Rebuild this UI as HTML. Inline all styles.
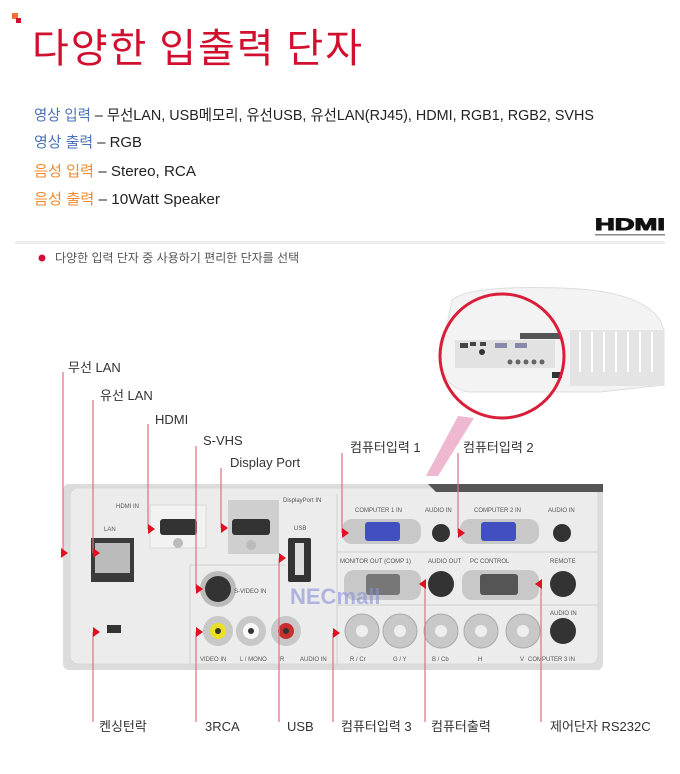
<!DOCTYPE html>
<html><head><meta charset="utf-8"><style>
body{margin:0;background:#fff;}
svg{display:block;font-family:"Liberation Sans","Noto Sans CJK KR",sans-serif;}
</style></head><body>
<svg width="680" height="774" viewBox="0 0 680 774" xmlns="http://www.w3.org/2000/svg">
<!-- title -->
<rect x="12" y="13" width="6" height="6" fill="#f07030"/>
<rect x="16" y="18" width="5" height="5" fill="#d01030"/>
<text x="32" y="62" font-size="40" fill="#d0102e" font-family="Noto Sans CJK KR, sans-serif" textLength="330">다양한 입출력 단자</text>
<g font-size="15" fill="#222">
<text x="34" y="120" textLength="560" lengthAdjust="spacingAndGlyphs"><tspan fill="#4a70b8">영상 입력</tspan> – 무선LAN, USB메모리, 유선USB, 유선LAN(RJ45), HDMI, RGB1, RGB2, SVHS</text>
<text x="34" y="147" textLength="108" lengthAdjust="spacingAndGlyphs"><tspan fill="#4a70b8">영상 출력</tspan> – RGB</text>
<text x="34" y="176" textLength="162" lengthAdjust="spacingAndGlyphs"><tspan fill="#f08a30">음성 입력</tspan> – Stereo, RCA</text>
<text x="34" y="204" textLength="186" lengthAdjust="spacingAndGlyphs"><tspan fill="#f08a30">음성 출력</tspan> – 10Watt Speaker</text>
</g>
<text x="595" y="230" font-size="17" font-weight="bold" fill="#111" font-family="Liberation Sans, sans-serif" textLength="70" lengthAdjust="spacingAndGlyphs" stroke="#111" stroke-width="1">HDMI</text>
<rect x="595" y="234" width="70" height="1.5" fill="#888"/>
<rect x="15" y="241" width="650" height="3" fill="#eee"/>
<circle cx="42" cy="258" r="3.5" fill="#d0103a"/>
<text x="55" y="262" font-size="12" fill="#555">다양한 입력 단자 중 사용하기 편리한 단자를 선택</text>

<!-- projector inset -->
<polygon points="458,416 474,418 438,476 426,476" fill="#e8a6c4" opacity="0.8"/>
<path d="M452,300 Q470,285 560,288 Q640,290 660,320 L664,330 L664,385 L600,392 L470,392 Q445,390 440,360 Z" fill="#f3f3f3" stroke="#ddd"/>
<rect x="570" y="330" width="94" height="56" fill="#e4e4e4"/>
<g stroke="#fff" stroke-width="2"><line x1="580" y1="332" x2="580" y2="372"/><line x1="592" y1="332" x2="592" y2="372"/><line x1="604" y1="332" x2="604" y2="372"/><line x1="616" y1="332" x2="616" y2="372"/><line x1="628" y1="332" x2="628" y2="372"/><line x1="640" y1="332" x2="640" y2="372"/><line x1="652" y1="332" x2="652" y2="372"/></g>
<rect x="520" y="333" width="40" height="6" fill="#555"/>
<rect x="455" y="340" width="100" height="28" fill="#e2e2e2"/>
<rect x="460" y="343" width="8" height="5" fill="#444"/><rect x="470" y="342" width="6" height="4" fill="#444"/><rect x="480" y="342" width="6" height="4" fill="#444"/>
<circle cx="482" cy="352" r="3" fill="#333"/><rect x="495" y="343" width="12" height="5" fill="#88a"/><rect x="515" y="343" width="12" height="5" fill="#88a"/>
<circle cx="510" cy="362" r="2.5" fill="#666"/><circle cx="518" cy="362" r="2.5" fill="#666"/><circle cx="526" cy="362" r="2.5" fill="#666"/><circle cx="534" cy="362" r="2.5" fill="#666"/><circle cx="542" cy="362" r="2.5" fill="#666"/>
<rect x="552" y="372" width="10" height="6" fill="#333"/>
<circle cx="502" cy="356" r="62" fill="none" stroke="#d81e3a" stroke-width="3"/>

<!-- panel -->
<rect x="63" y="484" width="540" height="186" rx="6" fill="#dcdcdc"/>
<rect x="70" y="488" width="528" height="176" rx="8" fill="#ececec" stroke="#d8d8d8"/>
<path d="M428,484 L603,484 L603,492 L436,492 Z" fill="#555"/>
<rect x="150" y="505" width="56" height="43" fill="#f2f2f2" stroke="#d8d8d8"/>
<rect x="228" y="500" width="51" height="54" fill="#cfcfcf"/>
<line x1="337" y1="494" x2="337" y2="665" stroke="#d0d0d0"/>
<line x1="337" y1="552" x2="598" y2="552" stroke="#d0d0d0"/>
<line x1="337" y1="605" x2="598" y2="605" stroke="#d0d0d0"/>
<line x1="190" y1="565" x2="190" y2="665" stroke="#d0d0d0"/>
<line x1="190" y1="565" x2="285" y2="565" stroke="#d0d0d0"/>
<rect x="91" y="538" width="43" height="44" fill="#3a3a3a"/>
<rect x="95" y="543" width="35" height="30" fill="#bbb"/>
<rect x="160" y="519" width="37" height="16" rx="3" fill="#333"/>
<circle cx="178" cy="543" r="5" fill="#bbb"/>
<rect x="232" y="519" width="38" height="16" rx="3" fill="#333"/>
<circle cx="251" cy="545" r="5" fill="#bbb"/>
<rect x="288" y="538" width="23" height="44" rx="2" fill="#333"/>
<rect x="295" y="543" width="9" height="32" fill="#ddd"/>
<circle cx="218" cy="589" r="18" fill="#bbb"/><circle cx="218" cy="589" r="13" fill="#333"/>
<circle cx="218" cy="631" r="15" fill="#c8c8c8"/><circle cx="218" cy="631" r="8" fill="#e8e020"/><circle cx="218" cy="631" r="3" fill="#333"/>
<circle cx="251" cy="631" r="15" fill="#c8c8c8"/><circle cx="251" cy="631" r="8" fill="#f8f8f8"/><circle cx="251" cy="631" r="3" fill="#333"/>
<circle cx="286" cy="631" r="15" fill="#c8c8c8"/><circle cx="286" cy="631" r="8" fill="#c83030"/><circle cx="286" cy="631" r="3" fill="#333"/>
<rect x="107" y="625" width="14" height="8" fill="#333"/>
<rect x="342" y="519" width="79" height="25" rx="10" fill="#c8c8c8"/><rect x="365" y="522" width="35" height="19" rx="3" fill="#4050c0"/>
<rect x="460" y="519" width="79" height="25" rx="10" fill="#c8c8c8"/><rect x="481" y="522" width="35" height="19" rx="3" fill="#4050c0"/>
<rect x="344" y="570" width="77" height="30" rx="10" fill="#c8c8c8"/><rect x="366" y="574" width="34" height="21" rx="3" fill="#777"/>
<rect x="462" y="570" width="77" height="30" rx="10" fill="#c8c8c8"/><rect x="480" y="574" width="38" height="21" rx="3" fill="#555"/>
<g fill="#333"><circle cx="441" cy="533" r="9"/><circle cx="562" cy="533" r="9"/><circle cx="441" cy="584" r="13"/><circle cx="563" cy="584" r="13"/><circle cx="563" cy="631" r="13"/></g>
<g fill="#c8c8c8" stroke="#aaa"><circle cx="362" cy="631" r="17"/><circle cx="400" cy="631" r="17"/><circle cx="441" cy="631" r="17"/><circle cx="481" cy="631" r="17"/><circle cx="523" cy="631" r="17"/></g>
<g fill="#eee"><circle cx="362" cy="631" r="6"/><circle cx="400" cy="631" r="6"/><circle cx="441" cy="631" r="6"/><circle cx="481" cy="631" r="6"/><circle cx="523" cy="631" r="6"/></g>
<text x="290" y="604" font-size="22" font-weight="bold" fill="#8890d8" opacity="0.6">NECmall</text>
<g font-size="6" fill="#555">
<text x="116" y="508">HDMI IN</text><text x="104" y="531">LAN</text><text x="283" y="502">DisplayPort IN</text>
<text x="294" y="530">USB</text><text x="234" y="593">S-VIDEO IN</text>
<text x="355" y="512">COMPUTER 1 IN</text><text x="425" y="512">AUDIO IN</text><text x="474" y="512">COMPUTER 2 IN</text><text x="548" y="512">AUDIO IN</text>
<text x="340" y="563">MONITOR OUT (COMP 1)</text><text x="428" y="563">AUDIO OUT</text><text x="470" y="563">PC CONTROL</text><text x="550" y="563">REMOTE</text>
<text x="550" y="615">AUDIO IN</text>
<text x="200" y="661">VIDEO IN</text><text x="240" y="661">L / MONO</text><text x="280" y="661">R</text><text x="300" y="661">AUDIO IN</text>
<text x="350" y="661">R / Cr</text><text x="393" y="661">G / Y</text><text x="432" y="661">B / Cb</text><text x="478" y="661">H</text><text x="520" y="661">V</text><text x="528" y="661">COMPUTER 3 IN</text>
</g>

<g stroke="#e07080" stroke-width="1.2">
<line x1="63" y1="372" x2="63" y2="553"/>
<line x1="93" y1="400" x2="93" y2="553"/>
<line x1="148" y1="424" x2="148" y2="529"/>
<line x1="196" y1="446" x2="196" y2="589"/>
<line x1="221" y1="468" x2="221" y2="528"/>
<line x1="342" y1="453" x2="342" y2="533"/>
<line x1="458" y1="453" x2="458" y2="533"/>
<line x1="93" y1="632" x2="93" y2="722"/>
<line x1="196" y1="632" x2="196" y2="722"/>
<line x1="279" y1="558" x2="279" y2="722"/>
<line x1="333" y1="633" x2="333" y2="722"/>
<line x1="425" y1="584" x2="425" y2="722"/>
<line x1="541" y1="584" x2="541" y2="722"/>
</g>
<g fill="#e01020">
<polygon points="61,548 68,553 61,558"/>
<polygon points="93,548 100,553 93,558"/>
<polygon points="148,524 155,529 148,534"/>
<polygon points="196,584 203,589 196,594"/>
<polygon points="221,523 228,528 221,533"/>
<polygon points="342,528 349,533 342,538"/>
<polygon points="458,528 465,533 458,538"/>
<polygon points="93,627 100,632 93,637"/>
<polygon points="196,627 203,632 196,637"/>
<polygon points="279,553 286,558 279,563"/>
<polygon points="333,628 340,633 333,638"/>
<polygon points="426,579 419,584 426,589"/>
<polygon points="542,579 535,584 542,589"/>
</g>
<g font-size="13" fill="#333">
<text x="68" y="372">무선 LAN</text>
<text x="100" y="400">유선 LAN</text>
<text x="155" y="424">HDMI</text>
<text x="203" y="445">S-VHS</text>
<text x="230" y="467">Display Port</text>
<text x="350" y="452">컴퓨터입력 1</text>
<text x="463" y="452">컴퓨터입력 2</text>
<text x="99" y="731">켄싱턴락</text>
<text x="205" y="731">3RCA</text>
<text x="287" y="731">USB</text>
<text x="341" y="731">컴퓨터입력 3</text>
<text x="431" y="731">컴퓨터출력</text>
<text x="550" y="731">제어단자 RS232C</text>
</g>
</svg>
</body></html>
